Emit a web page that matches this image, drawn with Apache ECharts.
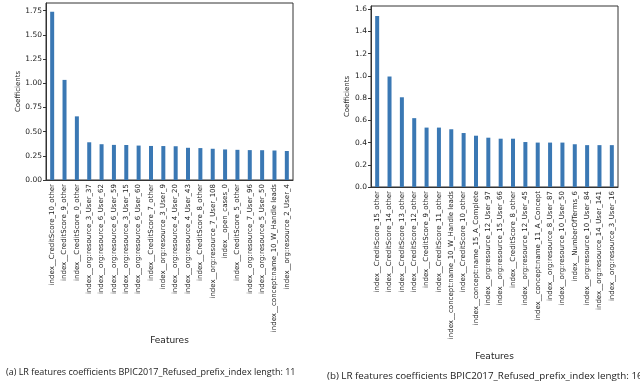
<!DOCTYPE html>
<html>
<head>
<meta charset="utf-8">
<script src="https://cdn.jsdelivr.net/npm/echarts@6/dist/echarts.min.js"></script>
<style>
  html, body { margin: 0; padding: 0; background: #fff; }
  #chart { width: 640px; height: 381px; }
</style>
</head>
<body>
<div id="chart"></div>
<script>
// (a) prefix length 11
const featuresA = [
  'index__CreditScore_10_other', 'index__CreditScore_9_other', 'index__CreditScore_0_other',
  'index__org:resource_3_User_37', 'index__org:resource_6_User_62', 'index__org:resource_6_User_59',
  'index__org:resource_3_User_15', 'index__org:resource_6_User_60', 'index__CreditScore_7_other',
  'index__org:resource_3_User_9', 'index__org:resource_4_User_20', 'index__org:resource_4_User_43',
  'index__CreditScore_8_other', 'index__org:resource_7_User_108', 'index__open_cases_0',
  'index__CreditScore_5_other', 'index__org:resource_7_User_96', 'index__org:resource_5_User_50',
  'index__concept:name_10_W_Handle leads', 'index__org:resource_2_User_4'
]
const coefA = [1.74, 1.035, 0.658, 0.39, 0.37, 0.363, 0.362, 0.356, 0.352, 0.351,
  0.349, 0.333, 0.33, 0.323, 0.316, 0.312, 0.309, 0.308, 0.305, 0.3]

// (b) prefix length 16
const featuresB = [
  'index__CreditScore_15_other', 'index__CreditScore_14_other', 'index__CreditScore_13_other',
  'index__CreditScore_12_other', 'index__CreditScore_9_other', 'index__CreditScore_11_other',
  'index__concept:name_10_W_Handle leads', 'index__CreditScore_10_other', 'index__concept:name_15_A_Complete',
  'index__org:resource_12_User_97', 'index__org:resource_15_User_66', 'index__CreditScore_8_other',
  'index__org:resource_12_User_45', 'index__concept:name_11_A_Concept', 'index__org:resource_8_User_87',
  'index__org:resource_10_User_50', 'index__NumberOfTerms_6', 'index__org:resource_10_User_84',
  'index__org:resource_14_User_141', 'index__org:resource_3_User_16'
]
const coefB = [1.54, 0.995, 0.808, 0.62, 0.535, 0.535, 0.52, 0.486, 0.462, 0.444,
  0.435, 0.435, 0.405, 0.4, 0.4, 0.4, 0.385, 0.377, 0.377, 0.377]

const captions = [
  '(a) LR features coefficients BPIC2017_Refused_prefix_index length: 11',
  '(b) LR features coefficients BPIC2017_Refused_prefix_index length: 16'
]

const barColor = '#3a78b4'
const labelFont = 'DejaVu Sans'

const chart = echarts.init(document.getElementById('chart'))

const xAxisCommon = {
  type: 'category',
  axisLine: { lineStyle: { color: '#333', width: 1 } },
  axisTick: { alignWithLabel: true, length: 3, lineStyle: { color: '#333' } },
  axisLabel: { rotate: 90, fontSize: 7, color: '#222', fontFamily: labelFont, margin: 4, interval: 0 },
  name: 'Features',
  nameLocation: 'middle',
  nameTextStyle: { fontSize: 9, color: '#222', fontFamily: labelFont }
}

const yAxisCommon = {
  type: 'value',
  min: 0,
  splitLine: { show: false },
  axisLine: { show: true, lineStyle: { color: '#333', width: 1 } },
  axisTick: { show: true, length: 3, lineStyle: { color: '#333' } },
  name: 'Coefficients',
  nameLocation: 'middle',
  nameTextStyle: { fontSize: 7, color: '#222', fontFamily: labelFont }
}

const option = {
  animation: false,
  backgroundColor: '#fff',
  title: [
    { text: captions[0], left: 1, top: 363,
      textStyle: { fontSize: 9, fontWeight: 'normal', color: '#222', fontFamily: 'Open Sans' } },
    { text: captions[1], left: 322, top: 366,
      textStyle: { fontSize: 9.8, fontWeight: 'normal', color: '#222', fontFamily: 'Open Sans' } }
  ],
  grid: [
    { left: 46, top: 3, width: 247, height: 177, show: true, borderColor: '#333', borderWidth: 1 },
    { left: 371, top: 6, width: 247, height: 181, show: true, borderColor: '#333', borderWidth: 1 }
  ],
  xAxis: [
    Object.assign({}, xAxisCommon, { gridIndex: 0, data: featuresA, nameGap: 151 }),
    Object.assign({}, xAxisCommon, { gridIndex: 1, data: featuresB, nameGap: 165 })
  ],
  yAxis: [
    Object.assign({}, yAxisCommon, {
      gridIndex: 0, max: 1.83, interval: 0.25, nameGap: 17,
      axisLabel: { fontSize: 7.5, color: '#222', fontFamily: labelFont, margin: 4,
        showMaxLabel: false, formatter: v => v.toFixed(2) }
    }),
    Object.assign({}, yAxisCommon, {
      gridIndex: 1, max: 1.63, interval: 0.2, nameGap: 13,
      axisLabel: { fontSize: 7.5, color: '#222', fontFamily: labelFont, margin: 4,
        showMaxLabel: false, formatter: v => v.toFixed(1) }
    })
  ],
  series: [
    { type: 'bar', xAxisIndex: 0, yAxisIndex: 0, data: coefA, barWidth: 4,
      itemStyle: { color: barColor } },
    { type: 'bar', xAxisIndex: 1, yAxisIndex: 1, data: coefB, barWidth: 4,
      itemStyle: { color: barColor } }
  ]
}

chart.setOption(option)
</script>
</body>
</html>
